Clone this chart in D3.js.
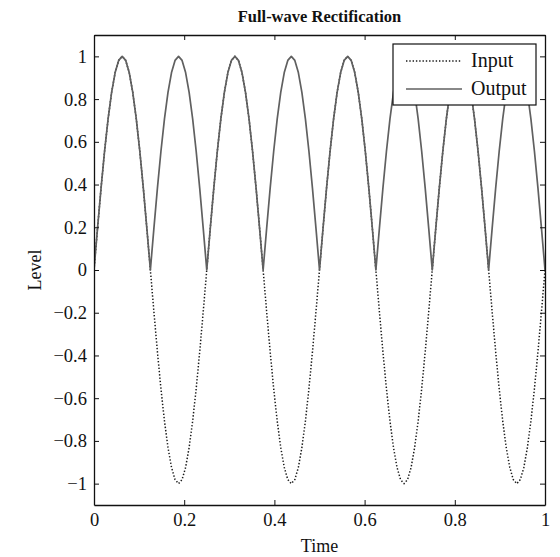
<!DOCTYPE html>
<html>
<head>
<meta charset="utf-8">
<script src="https://cdn.jsdelivr.net/npm/d3@7"></script>
<style>
  html, body { margin: 0; padding: 0; background: #fff; }
  svg { display: block; }
  text { font-family: "Liberation Serif", "DejaVu Serif", serif; fill: #111; }
</style>
</head>
<body>
<svg id="chart" width="560" height="557"></svg>
<script>
// ---- data ----
const title = "Full-wave Rectification";
const xLabel = "Time";
const yLabel = "Level";
const seriesNames = ["Input", "Output"];
const sampleStep = 1 / 128; // time between samples
const xTicks = [0, 0.2, 0.4, 0.6, 0.8, 1];
const xTickLabels = ["0", "0.2", "0.4", "0.6", "0.8", "1"];
const yTicks = [-1, -0.8, -0.6, -0.4, -0.2, 0, 0.2, 0.4, 0.6, 0.8, 1];
const yTickLabels = ["\u22121", "\u22120.8", "\u22120.6", "\u22120.4", "\u22120.2", "0", "0.2", "0.4", "0.6", "0.8", "1"];

const inputLevel = [
  0, .195, .383, .556, .707, .831, .924, .981, 1, .981, .924, .831, .707, .556, .383, .195,
  0, -.195, -.383, -.556, -.707, -.831, -.924, -.981, -1, -.981, -.924, -.831, -.707, -.556, -.383, -.195,
  0, .195, .383, .556, .707, .831, .924, .981, 1, .981, .924, .831, .707, .556, .383, .195,
  0, -.195, -.383, -.556, -.707, -.831, -.924, -.981, -1, -.981, -.924, -.831, -.707, -.556, -.383, -.195,
  0, .195, .383, .556, .707, .831, .924, .981, 1, .981, .924, .831, .707, .556, .383, .195,
  0, -.195, -.383, -.556, -.707, -.831, -.924, -.981, -1, -.981, -.924, -.831, -.707, -.556, -.383, -.195,
  0, .195, .383, .556, .707, .831, .924, .981, 1, .981, .924, .831, .707, .556, .383, .195,
  0, -.195, -.383, -.556, -.707, -.831, -.924, -.981, -1, -.981, -.924, -.831, -.707, -.556, -.383, -.195,
  0
];
const outputLevel = [
  0, .195, .383, .556, .707, .831, .924, .981, 1, .981, .924, .831, .707, .556, .383, .195,
  0, .195, .383, .556, .707, .831, .924, .981, 1, .981, .924, .831, .707, .556, .383, .195,
  0, .195, .383, .556, .707, .831, .924, .981, 1, .981, .924, .831, .707, .556, .383, .195,
  0, .195, .383, .556, .707, .831, .924, .981, 1, .981, .924, .831, .707, .556, .383, .195,
  0, .195, .383, .556, .707, .831, .924, .981, 1, .981, .924, .831, .707, .556, .383, .195,
  0, .195, .383, .556, .707, .831, .924, .981, 1, .981, .924, .831, .707, .556, .383, .195,
  0, .195, .383, .556, .707, .831, .924, .981, 1, .981, .924, .831, .707, .556, .383, .195,
  0, .195, .383, .556, .707, .831, .924, .981, 1, .981, .924, .831, .707, .556, .383, .195,
  0
];

// ---- layout ----
const margin = { left: 94, right: 15, top: 35, bottom: 52 };
const W = 560, H = 557;
const svg = d3.select("#chart");

const x = d3.scaleLinear().domain([0, 1]).range([margin.left, W - margin.right]);
const y = d3.scaleLinear().domain([-1.1, 1.1]).range([H - margin.bottom, margin.top]);

const inputPts = inputLevel.map((v, i) => [i * sampleStep, v]);
const outputPts = outputLevel.map((v, i) => [i * sampleStep, v]);

const line = d3.line().x(d => x(d[0])).y(d => y(d[1]));

const plot = svg.append("g");
plot.append("defs").append("clipPath").attr("id", "clip")
  .append("rect").attr("x", x(0)).attr("y", y(1.1)).attr("width", x(1) - x(0)).attr("height", y(-1.1) - y(1.1));

const lines = plot.append("g").attr("clip-path", "url(#clip)");
lines.append("path").datum(inputPts)
  .attr("d", line).attr("fill", "none")
  .attr("stroke", "#1a1a1a").attr("stroke-width", 1.5)
  .attr("stroke-dasharray", "1.4,1.9").attr("stroke-linecap", "butt");
lines.append("path").datum(outputPts)
  .attr("d", line).attr("fill", "none")
  .attr("stroke", "#606060").attr("stroke-width", 1.7)
  .attr("stroke-linejoin", "round");

// axes (ticks inward, box)
const tickLen = 5;
const fs = 18.5;
const axB = d3.axisBottom(x).tickValues(xTicks).tickFormat((d, i) => xTickLabels[i]).tickSizeInner(-tickLen).tickSizeOuter(0).tickPadding(8);
const axT = d3.axisTop(x).tickValues(xTicks).tickFormat("").tickSizeInner(-tickLen).tickSizeOuter(0);
const axL = d3.axisLeft(y).tickValues(yTicks).tickFormat((d, i) => yTickLabels[i]).tickSizeInner(-tickLen).tickSizeOuter(0).tickPadding(7);
const axR = d3.axisRight(y).tickValues(yTicks).tickFormat("").tickSizeInner(-tickLen).tickSizeOuter(0);

function style(g) {
  g.selectAll("path.domain").attr("stroke", "#111").attr("stroke-width", 1.3);
  g.selectAll(".tick line").attr("stroke", "#111").attr("stroke-width", 1);
  g.selectAll(".tick text").style("font-family", '"Liberation Serif", serif').style("font-size", fs + "px").attr("fill", "#111");
}
svg.append("g").attr("transform", `translate(0,${y(-1.1)})`).call(axB).call(style);
svg.append("g").attr("transform", `translate(0,${y(1.1)})`).call(axT).call(style);
svg.append("g").attr("transform", `translate(${x(0)},0)`).call(axL).call(style);
svg.append("g").attr("transform", `translate(${x(1)},0)`).call(axR).call(style);

// title and labels
svg.append("text").attr("x", (x(0) + x(1)) / 2).attr("y", 22)
  .attr("text-anchor", "middle").style("font-weight", "bold").style("font-size", "16.5px").text(title);
svg.append("text").attr("x", (x(0) + x(1)) / 2).attr("y", 552)
  .attr("text-anchor", "middle").style("font-size", "18px").text(xLabel);
svg.append("text").attr("transform", `translate(41,${y(0)}) rotate(-90)`)
  .attr("text-anchor", "middle").style("font-size", "18px").text(yLabel);

// legend
const lg = svg.append("g");
const lx = 393, ly = 44, lw = 143, lh = 61;
lg.append("rect").attr("x", lx).attr("y", ly).attr("width", lw).attr("height", lh)
  .attr("fill", "#fff").attr("stroke", "#111").attr("stroke-width", 1.2);
const rows = [
  { name: seriesNames[0], dash: "1.4,1.9", color: "#1a1a1a", w: 1.5 },
  { name: seriesNames[1], dash: null, color: "#606060", w: 1.7 }
];
rows.forEach((r, i) => {
  const ry = ly + 17 + i * 28;
  lg.append("line").attr("x1", lx + 13).attr("x2", lx + 69).attr("y1", ry).attr("y2", ry)
    .attr("stroke", r.color).attr("stroke-width", r.w).attr("stroke-dasharray", r.dash);
  lg.append("text").attr("x", lx + 78).attr("y", ry + 6).style("font-size", "20px").text(r.name);
});
</script>
</body>
</html>
